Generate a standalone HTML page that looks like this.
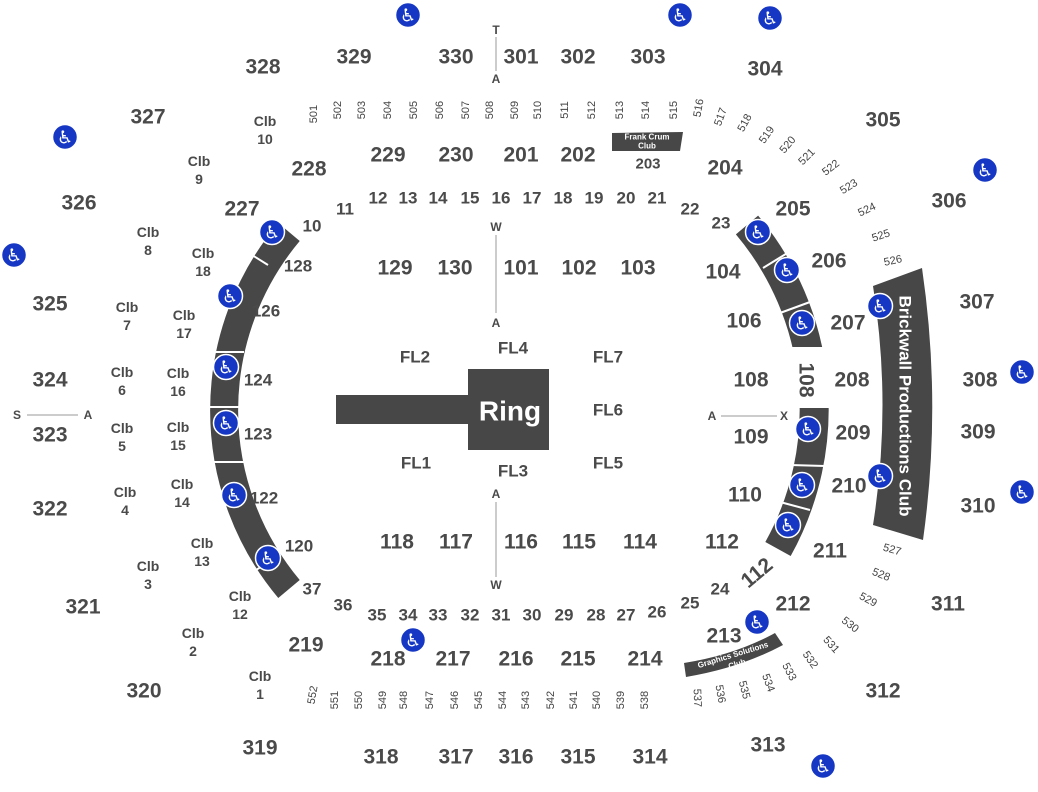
<!DOCTYPE html>
<html><head><meta charset="utf-8"><style>
html,body{margin:0;padding:0;background:#fff;width:1038px;height:792px;overflow:hidden}
svg{display:block}
text{font-family:"Liberation Sans",sans-serif;font-weight:bold;fill:#4a4a4a;text-anchor:middle;dominant-baseline:central}
.L{font-size:21px}.M{font-size:17px}.S{font-size:15px}.C{font-size:14px;font-weight:bold}.T{font-size:11px;font-weight:normal;fill:#444}.A{font-size:12px}
.w{fill:#fff}
</style></head><body>
<svg width="1038" height="792" viewBox="0 0 1038 792" xmlns="http://www.w3.org/2000/svg">
<defs>
<g id="wc"><circle r="12.5" fill="#1537c4" stroke="#fff" stroke-width="1.5"/><text x="0" y="1" style="font-family:'DejaVu Sans',sans-serif;font-size:18px;font-weight:normal;fill:#fff">♿</text></g>
</defs>
<path d="M 289 232 A 278 278 0 0 0 289 589" fill="none" stroke="#474747" stroke-width="28"/>
<g stroke="#fff" stroke-width="2">
<line x1="244" y1="250" x2="268" y2="265"/>
<line x1="208" y1="352" x2="244" y2="352"/>
<line x1="208" y1="407" x2="244" y2="407"/>
<line x1="208" y1="462" x2="244" y2="462"/>
<line x1="248" y1="575" x2="272" y2="560"/>
</g>
<path d="M 747 225 A 287 287 0 0 1 778 549" fill="none" stroke="#474747" stroke-width="29"/>
<rect x="780" y="347" width="60" height="61" fill="#fff"/>
<g stroke="#fff" stroke-width="2">
<line x1="763" y1="268" x2="789" y2="252"/>
<line x1="780" y1="313" x2="810" y2="302"/>
<line x1="790" y1="465" x2="825" y2="466"/>
<line x1="780" y1="502" x2="810" y2="510"/>
</g>
<path d="M 873 286 L 922 268 Q 942 404 923 540 L 873 525 Q 892 405 873 286 Z" fill="#474747"/>
<text class="w" x="905" y="406" transform="rotate(90 905 406)" style="font-size:17px;fill:#fff">Brickwall Productions Club</text>
<rect x="336" y="395" width="134" height="29" fill="#474747"/>
<rect x="468" y="369" width="81" height="81" fill="#474747"/>
<text x="510" y="411" style="font-size:28px;fill:#fff">Ring</text>
<path d="M 612 133 L 683 132 L 680 151 L 612 151 Z" fill="#474747"/>
<text x="647" y="137" style="font-size:8px;fill:#fff">Frank Crum</text>
<text x="647" y="146" style="font-size:8px;fill:#fff">Club</text>
<path d="M 684 663 Q 735 655 775 633 L 783 645 Q 740 668 686 677 Z" fill="#474747"/>
<text x="733" y="655" transform="rotate(-17 733 655)" style="font-size:8px;fill:#fff">Graphics  Solutions</text>
<text x="737" y="664" transform="rotate(-17 737 664)" style="font-size:8px;fill:#fff">Club</text>
<g stroke="#999" stroke-width="1">
<line x1="496" y1="37" x2="496" y2="71"/>
<line x1="496" y1="235" x2="496" y2="313"/>
<line x1="496" y1="502" x2="496" y2="577"/>
<line x1="27" y1="415" x2="78" y2="415"/>
<line x1="721" y1="416" x2="777" y2="416"/>
</g>
<text class="A" x="496" y="30">T</text><text class="A" x="496" y="79">A</text>
<text class="A" x="496" y="227">W</text><text class="A" x="496" y="323">A</text>
<text class="A" x="496" y="494">A</text><text class="A" x="496" y="585">W</text>
<text class="A" x="17" y="415">S</text><text class="A" x="88" y="415">A</text>
<text class="A" x="712" y="416">A</text><text class="A" x="784" y="416">X</text>
<text class="L" x="263" y="67">328</text><text class="L" x="354" y="57">329</text><text class="L" x="456" y="57">330</text>
<text class="L" x="521" y="57">301</text><text class="L" x="578" y="57">302</text><text class="L" x="648" y="57">303</text>
<text class="L" x="765" y="69">304</text><text class="L" x="883" y="120">305</text><text class="L" x="949" y="201">306</text>
<text class="L" x="977" y="302">307</text><text class="L" x="980" y="380">308</text><text class="L" x="978" y="432">309</text>
<text class="L" x="978" y="506">310</text><text class="L" x="948" y="604">311</text><text class="L" x="883" y="691">312</text>
<text class="L" x="768" y="745">313</text><text class="L" x="650" y="757">314</text><text class="L" x="578" y="757">315</text>
<text class="L" x="516" y="757">316</text><text class="L" x="456" y="757">317</text><text class="L" x="381" y="757">318</text>
<text class="L" x="260" y="748">319</text><text class="L" x="144" y="691">320</text><text class="L" x="83" y="607">321</text>
<text class="L" x="50" y="509">322</text><text class="L" x="50" y="435">323</text><text class="L" x="50" y="380">324</text>
<text class="L" x="50" y="304">325</text><text class="L" x="79" y="203">326</text><text class="L" x="148" y="117">327</text>
<text class="L" x="309" y="169">228</text><text class="L" x="388" y="155">229</text><text class="L" x="456" y="155">230</text>
<text class="L" x="521" y="155">201</text><text class="L" x="578" y="155">202</text><text class="S" x="648" y="164">203</text>
<text class="L" x="725" y="168">204</text><text class="L" x="793" y="209">205</text><text class="L" x="829" y="261">206</text>
<text class="L" x="848" y="323">207</text><text class="L" x="852" y="380">208</text><text class="L" x="853" y="433">209</text>
<text class="L" x="849" y="486">210</text><text class="L" x="830" y="551">211</text><text class="L" x="793" y="604">212</text>
<text class="L" x="724" y="636">213</text><text class="L" x="645" y="659">214</text><text class="L" x="578" y="659">215</text>
<text class="L" x="516" y="659">216</text><text class="L" x="453" y="659">217</text><text class="L" x="388" y="659">218</text>
<text class="L" x="306" y="645">219</text><text class="L" x="242" y="209">227</text>
<text class="L" x="395" y="268">129</text><text class="L" x="455" y="268">130</text><text class="L" x="521" y="268">101</text>
<text class="L" x="579" y="268">102</text><text class="L" x="638" y="268">103</text><text class="L" x="723" y="272">104</text>
<text class="L" x="744" y="321">106</text><text class="L" x="751" y="380">108</text>
<text class="L" x="806" y="380" transform="rotate(90 806 380)">108</text>
<text class="L" x="751" y="437">109</text><text class="L" x="745" y="495">110</text><text class="L" x="722" y="542">112</text>
<text class="L" x="757" y="573" transform="rotate(-40 757 573)">112</text>
<text class="L" x="640" y="542">114</text><text class="L" x="579" y="542">115</text><text class="L" x="521" y="542">116</text>
<text class="L" x="456" y="542">117</text><text class="L" x="397" y="542">118</text>
<text class="M" x="312" y="226">10</text><text class="M" x="298" y="266">128</text><text class="M" x="266" y="311">126</text>
<text class="M" x="258" y="380">124</text><text class="M" x="258" y="434">123</text><text class="M" x="264" y="498">122</text>
<text class="M" x="299" y="546">120</text><text class="M" x="312" y="589">37</text>
<text class="M" x="345" y="209">11</text><text class="M" x="378" y="198">12</text><text class="M" x="408" y="198">13</text>
<text class="M" x="438" y="198">14</text><text class="M" x="470" y="198">15</text><text class="M" x="501" y="198">16</text>
<text class="M" x="532" y="198">17</text><text class="M" x="563" y="198">18</text><text class="M" x="594" y="198">19</text>
<text class="M" x="626" y="198">20</text><text class="M" x="657" y="198">21</text><text class="M" x="690" y="209">22</text>
<text class="M" x="721" y="223">23</text>
<text class="M" x="343" y="605">36</text><text class="M" x="377" y="615">35</text><text class="M" x="408" y="615">34</text>
<text class="M" x="438" y="615">33</text><text class="M" x="470" y="615">32</text><text class="M" x="501" y="615">31</text>
<text class="M" x="532" y="615">30</text><text class="M" x="564" y="615">29</text><text class="M" x="596" y="615">28</text>
<text class="M" x="626" y="615">27</text><text class="M" x="657" y="612">26</text><text class="M" x="690" y="603">25</text>
<text class="M" x="720" y="589">24</text>
<text class="M" x="415" y="357">FL2</text><text class="M" x="513" y="348">FL4</text><text class="M" x="608" y="357">FL7</text>
<text class="M" x="608" y="410">FL6</text><text class="M" x="416" y="463">FL1</text><text class="M" x="513" y="471">FL3</text>
<text class="M" x="608" y="463">FL5</text>
<text class="C" x="265" y="121">Clb</text><text class="C" x="265" y="139">10</text>
<text class="C" x="199" y="161">Clb</text><text class="C" x="199" y="179">9</text>
<text class="C" x="148" y="232">Clb</text><text class="C" x="148" y="250">8</text>
<text class="C" x="203" y="253">Clb</text><text class="C" x="203" y="271">18</text>
<text class="C" x="127" y="307">Clb</text><text class="C" x="127" y="325">7</text>
<text class="C" x="184" y="315">Clb</text><text class="C" x="184" y="333">17</text>
<text class="C" x="122" y="372">Clb</text><text class="C" x="122" y="390">6</text>
<text class="C" x="178" y="373">Clb</text><text class="C" x="178" y="391">16</text>
<text class="C" x="122" y="428">Clb</text><text class="C" x="122" y="446">5</text>
<text class="C" x="178" y="427">Clb</text><text class="C" x="178" y="445">15</text>
<text class="C" x="125" y="492">Clb</text><text class="C" x="125" y="510">4</text>
<text class="C" x="182" y="484">Clb</text><text class="C" x="182" y="502">14</text>
<text class="C" x="202" y="543">Clb</text><text class="C" x="202" y="561">13</text>
<text class="C" x="148" y="566">Clb</text><text class="C" x="148" y="584">3</text>
<text class="C" x="240" y="596">Clb</text><text class="C" x="240" y="614">12</text>
<text class="C" x="193" y="633">Clb</text><text class="C" x="193" y="651">2</text>
<text class="C" x="260" y="676">Clb</text><text class="C" x="260" y="694">1</text>
<text class="T" x="314" y="114" transform="rotate(-90 314 114)">501</text>
<text class="T" x="338" y="110" transform="rotate(-90 338 110)">502</text>
<text class="T" x="362" y="110" transform="rotate(-90 362 110)">503</text>
<text class="T" x="388" y="110" transform="rotate(-90 388 110)">504</text>
<text class="T" x="414" y="110" transform="rotate(-90 414 110)">505</text>
<text class="T" x="440" y="110" transform="rotate(-90 440 110)">506</text>
<text class="T" x="466" y="110" transform="rotate(-90 466 110)">507</text>
<text class="T" x="490" y="110" transform="rotate(-90 490 110)">508</text>
<text class="T" x="515" y="110" transform="rotate(-90 515 110)">509</text>
<text class="T" x="538" y="110" transform="rotate(-90 538 110)">510</text>
<text class="T" x="565" y="110" transform="rotate(-90 565 110)">511</text>
<text class="T" x="592" y="110" transform="rotate(-90 592 110)">512</text>
<text class="T" x="620" y="110" transform="rotate(-90 620 110)">513</text>
<text class="T" x="646" y="110" transform="rotate(-90 646 110)">514</text>
<text class="T" x="674" y="110" transform="rotate(-90 674 110)">515</text>
<text class="T" x="699" y="108" transform="rotate(-80 699 108)">516</text>
<text class="T" x="721" y="117" transform="rotate(-70 721 117)">517</text>
<text class="T" x="745" y="123" transform="rotate(-62 745 123)">518</text>
<text class="T" x="767" y="135" transform="rotate(-55 767 135)">519</text>
<text class="T" x="788" y="145" transform="rotate(-50 788 145)">520</text>
<text class="T" x="807" y="157" transform="rotate(-45 807 157)">521</text>
<text class="T" x="831" y="168" transform="rotate(-38 831 168)">522</text>
<text class="T" x="849" y="187" transform="rotate(-32 849 187)">523</text>
<text class="T" x="867" y="210" transform="rotate(-25 867 210)">524</text>
<text class="T" x="881" y="236" transform="rotate(-18 881 236)">525</text>
<text class="T" x="893" y="261" transform="rotate(-12 893 261)">526</text>
<text class="T" x="313" y="695" transform="rotate(-80 313 695)">552</text>
<text class="T" x="335" y="700" transform="rotate(-90 335 700)">551</text>
<text class="T" x="359" y="700" transform="rotate(-90 359 700)">550</text>
<text class="T" x="383" y="700" transform="rotate(-90 383 700)">549</text>
<text class="T" x="404" y="700" transform="rotate(-90 404 700)">548</text>
<text class="T" x="430" y="700" transform="rotate(-90 430 700)">547</text>
<text class="T" x="455" y="700" transform="rotate(-90 455 700)">546</text>
<text class="T" x="479" y="700" transform="rotate(-90 479 700)">545</text>
<text class="T" x="503" y="700" transform="rotate(-90 503 700)">544</text>
<text class="T" x="526" y="700" transform="rotate(-90 526 700)">543</text>
<text class="T" x="551" y="700" transform="rotate(-90 551 700)">542</text>
<text class="T" x="574" y="700" transform="rotate(-90 574 700)">541</text>
<text class="T" x="597" y="700" transform="rotate(-90 597 700)">540</text>
<text class="T" x="621" y="700" transform="rotate(-90 621 700)">539</text>
<text class="T" x="645" y="700" transform="rotate(-90 645 700)">538</text>
<text class="T" x="697" y="698" transform="rotate(88 697 698)">537</text>
<text class="T" x="720" y="694" transform="rotate(80 720 694)">536</text>
<text class="T" x="744" y="690" transform="rotate(75 744 690)">535</text>
<text class="T" x="768" y="683" transform="rotate(70 768 683)">534</text>
<text class="T" x="789" y="672" transform="rotate(62 789 672)">533</text>
<text class="T" x="810" y="660" transform="rotate(55 810 660)">532</text>
<text class="T" x="831" y="645" transform="rotate(48 831 645)">531</text>
<text class="T" x="850" y="625" transform="rotate(38 850 625)">530</text>
<text class="T" x="868" y="600" transform="rotate(28 868 600)">529</text>
<text class="T" x="881" y="575" transform="rotate(22 881 575)">528</text>
<text class="T" x="892" y="550" transform="rotate(16 892 550)">527</text>
<use href="#wc" x="408" y="15"/><use href="#wc" x="680" y="15"/><use href="#wc" x="770" y="18"/>
<use href="#wc" x="65" y="137"/><use href="#wc" x="14" y="255"/><use href="#wc" x="985" y="170"/>
<use href="#wc" x="1022" y="372"/><use href="#wc" x="1022" y="492"/><use href="#wc" x="823" y="766"/>
<use href="#wc" x="413" y="640"/><use href="#wc" x="757" y="622"/>
<use href="#wc" x="272" y="232"/><use href="#wc" x="230" y="296"/><use href="#wc" x="226" y="367"/>
<use href="#wc" x="226" y="423"/><use href="#wc" x="234" y="495"/><use href="#wc" x="268" y="558"/>
<use href="#wc" x="758" y="232"/><use href="#wc" x="787" y="270"/><use href="#wc" x="802" y="323"/>
<use href="#wc" x="808" y="429"/><use href="#wc" x="802" y="485"/><use href="#wc" x="788" y="525"/>
<use href="#wc" x="880" y="306"/><use href="#wc" x="880" y="476"/>
</svg>
</body></html>
